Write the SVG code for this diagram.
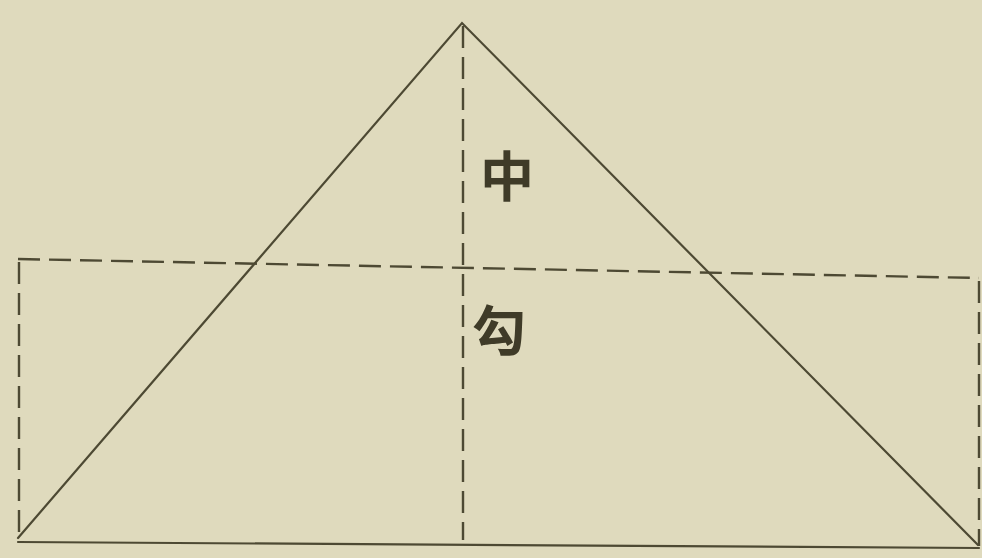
<svg xmlns="http://www.w3.org/2000/svg" width="982" height="558" viewBox="0 0 982 558">
<style>
.bg{fill:#dfdabd}
.solid{stroke:#4d4933;stroke-width:2.2;fill:none;stroke-linecap:round}
.dash{stroke:#4d4933;stroke-width:2.4;fill:none;stroke-dasharray:22 9}
.lbl{font-family:"Noto Sans CJK SC","Noto Sans CJK JP",sans-serif;font-size:54px;font-weight:bold;fill:#3f3b28;text-anchor:middle}
</style>
<rect class="bg" x="0" y="0" width="982" height="558"/>
<g id="connectors">
<polyline class="solid" points="18,538 462,23 978,545"/>
<line class="solid" x1="18" y1="542" x2="979" y2="548"/>
<line class="dash" x1="463" y1="26" x2="463" y2="540"/>
<line class="dash" x1="18" y1="259" x2="979" y2="278"/>
<line class="dash" x1="19" y1="262" x2="19" y2="540"/>
<line class="dash" x1="979" y1="281" x2="979" y2="546"/>
</g>
<g id="label-zhong"><text class="lbl" x="507" y="197">中</text></g>
<g id="label-gou"><text class="lbl" x="499" y="351">勾</text></g>
</svg>
